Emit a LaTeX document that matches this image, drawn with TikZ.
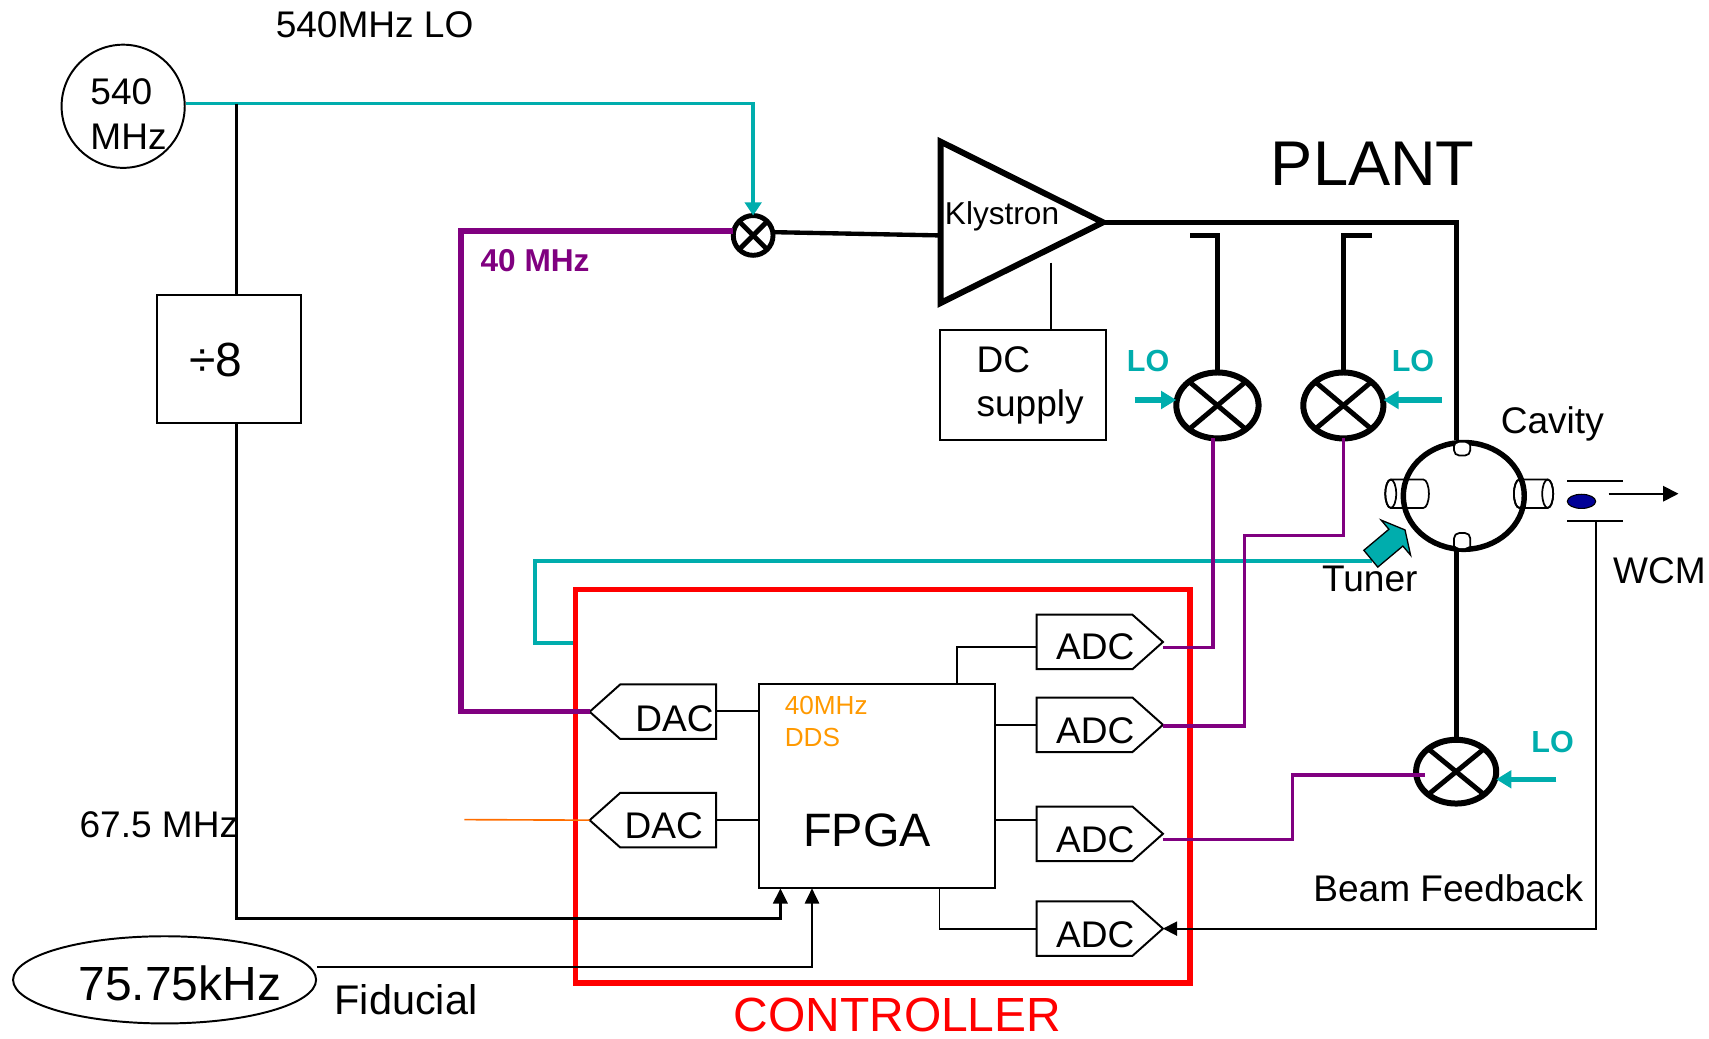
\documentclass[tikz,border=0pt]{standalone}
\usepackage{fontspec}
\setmainfont{Liberation Sans}
\usetikzlibrary{arrows.meta,shapes.geometric,calc}
\definecolor{cyn}{RGB}{0,173,173}
\definecolor{prp}{RGB}{128,0,128}
\definecolor{orgT}{RGB}{255,153,0}
\definecolor{orgL}{RGB}{255,110,0}
\definecolor{rd}{RGB}{255,0,0}
\definecolor{bunch}{RGB}{0,0,150}
\newcommand{\fsz}[1]{\fontsize{#1pt}{#1pt}\selectfont}
\newcommand{\mixX}[3]{%
  \draw[xl] ($(#1)+(-#2,-#3)$) -- ($(#1)+(#2,#3)$);
  \draw[xl] ($(#1)+(-#2,#3)$) -- ($(#1)+(#2,-#3)$);}
\newcommand{\adcshape}[2]{%
  \draw[boxline] (951,#2-25) -- (1039,#2-25) -- (1067,#2) -- (1039,#2+25) -- (951,#2+25) -- cycle;
  \coordinate (#1tip) at (1067,#2);}
\newcommand{\dacshape}[2]{%
  \draw[boxline] (541,#2) -- (569,#2-25) -- (657,#2-25) -- (657,#2+25) -- (569,#2+25) -- cycle;
  \coordinate (#1tip) at (541,#2);}
\begin{document}
\begin{tikzpicture}[x=0.5pt,y=-0.5pt,
  txt/.style={inner sep=0pt,outer sep=0pt,anchor=base west},
  thinl/.style={line width=0.85pt},
  boxline/.style={line width=0.9pt,line join=miter},
  box/.style={draw,line width=0.9pt,inner sep=0pt,outer sep=0pt},
  mixer/.style={ellipse,draw,line width=2.75pt,inner sep=0pt,outer sep=0pt},
  xl/.style={line width=2.25pt},
  cyl/.style={line width=1.75pt,cyn},
  pthick/.style={line width=2.4pt,prp},
  pthin/.style={line width=1.5pt,prp},
  heavy/.style={line width=2.3pt},
  port/.style={line width=0.8pt},
  loarrow/.style={cyn,line width=2.5pt,-{Triangle[length=7pt,width=8pt]}},
  blk/.style={-{Triangle[length=7pt,width=6.5pt]}}
]
\path[use as bounding box, fill=white] (0,0) rectangle (1568,952.4);

% ---------- oscillator and divider ----------
\node[circle,draw,line width=0.9pt,minimum size=56.5pt,inner sep=0pt] (osc) at (113,97.5) {};
\node[txt,font=\fsz{17}] (t540) at (83,96) {540};
\node[txt,font=\fsz{17}] (tMHz) at (83,137) {MHz};
\node[txt,font=\fsz{17}] (tLO540) at (253,34) {540MHz LO};

\node[box,minimum width=66pt,minimum height=58.5pt] (div8) at (210,329.5) {};
\node[txt,font=\fsz{22}] (tdiv) at (174,345) {÷8};

\node[mixer,line width=2.25pt,minimum size=18.25pt] (smix) at (691,216) {};
\mixX{smix}{12.5}{12.5}

\draw[cyl,-{Triangle[length=6pt,width=7.5pt]}] ($(osc.east)+(0,-2.5)$) -| (smix.north);

\coordinate (tap) at (217,95);
\coordinate (j1) at (716,843);
\draw[line width=1.5pt] (tap) -- (tap |- div8.north);
\node[txt,font=\fsz{17}] (t675) at (73,768) {67.5 MHz};

% ---------- fiducial ----------
\node[ellipse,draw,line width=0.9pt,minimum width=139pt,minimum height=40pt,inner sep=0pt] (fid) at (151,899) {};
\node[txt,font=\fsz{22}] (t7575) at (72,918) {75.75kHz};
\node[txt,font=\fsz{19}] (tfid) at (307,931) {Fiducial};
\coordinate (j2) at (745,887);

% ---------- 40 MHz path ----------
\coordinate (p40a) at (423,212);
\node[txt,font={\fsz{14.5}\bfseries},text=prp] (t40) at (441,249) {40 MHz};

% ---------- Klystron ----------
\coordinate (kA) at (863,130);
\coordinate (kB) at (863,278);
\coordinate (kT) at (1012,204);
\coordinate (kin) at (863,216);
\draw[line width=2.75pt,line join=miter] (kA) -- (kT) -- (kB) -- cycle;
\node[txt,font=\fsz{14.5}] (tkly) at (867,206) {Klystron};
\draw[line width=2pt] ($(smix.east)+(0,-3)$) -- (kin);

\node[box,minimum width=76.5pt,minimum height=50.5pt] (dc) at (938.5,353.5) {};
\coordinate (kdc) at (964,241);
\draw[thinl] (kdc) -- (kdc |- dc.north);
\node[txt,font=\fsz{17}] (tDC) at (896,342) {DC};
\node[txt,font=\fsz{17}] (tsup) at (896,382) {supply};

\node[txt,font=\fsz{29}] (tplant) at (1166,170) {PLANT};

% ---------- mixers ----------
\node[mixer,minimum width=37.75pt,minimum height=30.25pt] (mix1) at (1117,372) {};
\node[mixer,minimum width=36.75pt,minimum height=30.25pt] (mix2) at (1232.5,372) {};
\node[mixer,minimum width=36.75pt,minimum height=29.25pt] (mix3) at (1336,708) {};
\mixX{mix1}{25}{21}
\mixX{mix2}{25}{21}
\mixX{mix3}{25}{20.5}

\coordinate (cp1) at (1092,216);
\coordinate (cp2) at (1259,216);
\draw[heavy] (cp1) -| (mix1.north);
\draw[heavy] (cp2) -| (mix2.north);

\coordinate (lo1) at (1041,367);
\coordinate (lo2) at (1323,367);
\coordinate (lo3) at (1428,715);
\draw[loarrow] (lo1) -- (lo1 -| mix1.west);
\draw[loarrow] (lo2) -- (lo2 -| mix2.east);
\draw[loarrow] (lo3) -- (lo3 -| mix3.east);
\node[txt,font={\fsz{14}\bfseries},text=cyn] (tlo1) at (1034,341) {LO};
\node[txt,font={\fsz{14}\bfseries},text=cyn] (tlo2) at (1277,341) {LO};
\node[txt,font={\fsz{14}\bfseries},text=cyn] (tlo3) at (1405,690) {LO};

% ---------- cavity ----------
\draw[port,fill=white] (1276,440) -- (1306,440) arc[start angle=90,end angle=-90,x radius=2.5pt,y radius=6.5pt] -- (1276,466) arc[start angle=270,end angle=90,x radius=2.5pt,y radius=6.5pt];
\draw[port] (1276,453) ellipse [x radius=2.5pt,y radius=6.5pt];
\draw[port,fill=white] (1394,440) -- (1420,440) arc[start angle=90,end angle=-90,x radius=2.5pt,y radius=6.5pt] -- (1394,466) arc[start angle=270,end angle=90,x radius=2.5pt,y radius=6.5pt];
\draw[port] (1394,453) ellipse [x radius=2.5pt,y radius=6.5pt];
\draw[port] (1420,453) ellipse [x radius=2.5pt,y radius=6.5pt];
\node[ellipse,draw,line width=2.5pt,minimum width=55.5pt,minimum height=49pt,inner sep=0pt] (cav) at (1343,455) {};
% ports on the ring
\fill[white,rounded corners=2.5pt] (1334.4,406) -- (1334.4,418) -- (1348.6,418) -- (1348.6,406) -- cycle;
\draw[port,rounded corners=2.5pt] (1334,406) -- (1334,418) -- (1349,418) -- (1349,406);
\fill[white,rounded corners=2.5pt] (1334.4,503) -- (1334.4,489) -- (1348.6,489) -- (1348.6,503) -- cycle;
\draw[port,rounded corners=2.5pt] (1334,503) -- (1334,489) -- (1349,489) -- (1349,503);
\coordinate (cavtop) at (1336,404);
\coordinate (cavbot) at (1336,505);
\draw[heavy] (kT) -| (cavtop);
\draw[heavy] (cavbot) -- (cavbot |- mix3.north);
\node[txt,font=\fsz{17}] (tcav) at (1377,398) {Cavity};

% ---------- WCM ----------
\draw[thinl] (1438,441) -- (1489,441);
\draw[thinl] (1438,478) -- (1489,478);
\node[ellipse,fill=bunch,draw=black,line width=0.5pt,minimum width=13pt,minimum height=6.5pt,inner sep=0pt] (bun) at (1451,460) {};
\coordinate (bo1) at (1476,453);
\coordinate (bo2) at (1540,453);
\draw[thinl,-{Triangle[length=7pt,width=7pt]}] (bo1) -- (bo2);
\node[txt,font=\fsz{17}] (twcm) at (1480,535) {WCM};
\node[txt,font=\fsz{17}] (tbf) at (1205,827) {Beam Feedback};

% ---------- tuner ----------
\coordinate (tu1) at (528,590);
\coordinate (tu2) at (491,515);
\coordinate (tu3) at (1259,515);
\draw[cyl] (tu1) -| (tu2) -- (tu3);
\draw[fill=cyn,line width=0.6pt,line join=miter] (1251.3,504.9) -- (1274.3,485.6) -- (1267.2,477.2) -- (1289.1,486.2) -- (1294.2,509.4) -- (1287.1,501.0) -- (1264.1,520.3) -- cycle;
\node[txt,font=\fsz{17}] (ttun) at (1213,543) {Tuner};

% ---------- controller ----------
\draw[rd,line width=2.5pt] (528,541) rectangle (1092,902);
\node[txt,font=\fsz{22},text=rd] (tctl) at (673,946) {CONTROLLER};

\node[box,minimum width=108.5pt,minimum height=93.5pt] (fpga) at (804.5,721.5) {};
\node[txt,font=\fsz{21.5}] (tfpga) at (737,777) {FPGA};
\node[txt,font=\fsz{12},text=orgT] (tdds1) at (720,656) {40MHz};
\node[txt,font=\fsz{12},text=orgT] (tdds2) at (720,685) {DDS};

\dacshape{dac1}{653}
\dacshape{dac2}{752.5}
\node[txt,font=\fsz{17}] (tdac1) at (583,671) {DAC};
\node[txt,font=\fsz{17}] (tdac2) at (573,769) {DAC};
\coordinate (d1r) at (657,652);
\coordinate (d2r) at (657,752);
\draw[thinl] (d1r) -- (d1r -| fpga.west);
\draw[thinl] (d2r) -- (d2r -| fpga.west);

\adcshape{adc1}{589}
\adcshape{adc2}{665}
\adcshape{adc3}{765}
\adcshape{adc4}{852}
\node[txt,font=\fsz{17}] (tadc1) at (969,605) {ADC};
\node[txt,font=\fsz{17}] (tadc2) at (969,682) {ADC};
\node[txt,font=\fsz{17}] (tadc3) at (969,782) {ADC};
\node[txt,font=\fsz{17}] (tadc4) at (969,869) {ADC};

\coordinate (fa1) at (878,628);
\coordinate (a1in) at (951,594);
\coordinate (a2in) at (951,665);
\coordinate (a3in) at (951,752);
\coordinate (fa4) at (862,815);
\coordinate (a4in) at (951,852);
\draw[thinl] (fa1) |- (a1in);
\draw[thinl] (fpga.east |- a2in) -- (a2in);
\draw[thinl] (fpga.east |- a3in) -- (a3in);
\draw[thinl] (fa4) |- (a4in);

% ---------- purple IF lines ----------
\draw[pthick] ($(smix.west)+(0,-4)$) -- (p40a) |- (dac1tip);
\coordinate (a1o) at (1067,594);
\coordinate (a2o) at (1067,666);
\coordinate (a3o) at (1067,770);
\coordinate (pj2) at (1142,491);
\coordinate (pj3) at (1186,711);
\draw[pthin] (a1o) -| ($(mix1.south)+(-4,0)$);
\draw[pthin] (a2o) -| (pj2) -| (mix2.south);
\draw[pthin] (a3o) -| (pj3) -- ($(pj3 -| mix3.west)+(8,0)$);

% ---------- orange, clocks, feedback ----------
\coordinate (orng) at (426,752);
\draw[orgL,line width=0.75pt] (orng) -- (dac2tip);
\draw[line width=1.5pt,blk] (tap |- div8.south) |- (j1) -- (j1 |- fpga.south);
\draw[line width=1pt,blk] ($(fid.east)+(0,-12)$) -- (j2) -- (j2 |- fpga.south);
\coordinate (wcmb) at (1464,478);
\draw[thinl,-{Triangle[length=6.5pt,width=6.5pt]}] (wcmb) |- (adc4tip);
\end{tikzpicture}
\end{document}
